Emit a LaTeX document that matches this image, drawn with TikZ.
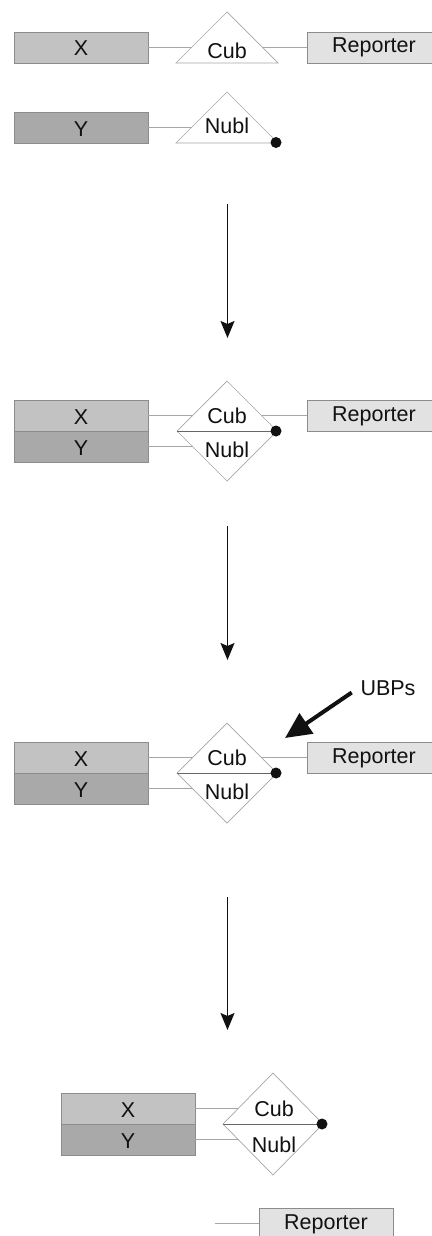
\documentclass[tikz,border=0pt]{standalone}
\usepackage{fontspec}
\setmainfont{Liberation Sans}
\usetikzlibrary{arrows.meta}
\definecolor{xfill}{HTML}{C2C2C2}
\definecolor{yfill}{HTML}{A9A9A9}
\definecolor{rfill}{HTML}{E2E2E2}
\definecolor{bordcol}{HTML}{8C8C8C}
\definecolor{conncol}{HTML}{A6A6A6}
\definecolor{inkcol}{HTML}{111111}
\begin{document}
\begin{tikzpicture}[x=1pt,y=-1pt,
 font=\fontsize{21.5}{25}\selectfont,
 box/.style={draw=bordcol, line width=0.9pt, minimum width=134pt, minimum height=31pt,
   inner sep=0pt, text height=24pt, text depth=7pt, text=inkcol},
 xbox/.style={box, fill=xfill},
 ybox/.style={box, fill=yfill},
 rbox/.style={box, fill=rfill, text height=21pt, text depth=10pt},
 conn/.style={draw=conncol, line width=0.9pt},
 outline/.style={draw=conncol, line width=0.7pt, fill=white},
 midline/.style={draw=black!60, line width=0.9pt},
 lbl/.style={anchor=base, inner sep=0pt, text=inkcol},
 dotmark/.style={fill=inkcol},
 flow/.style={line width=1.4pt, draw=inkcol, -{Stealth[length=17pt,width=14pt,inset=3pt]}},
 pointer/.style={line width=4pt, draw=inkcol, -{Triangle[length=26pt,width=24pt]}}
]
\useasboundingbox (0,0) rectangle (431,1236);

% ---------- panel 1 ----------
\node[xbox] (x1) at (81,47.5) {X};
\node[ybox] (y1) at (81,127.5) {Y};
\node[rbox] (r1) at (374,47.5) {Reporter};
\draw[outline] (176,63) -- (227,12) -- (278,63) -- cycle;
\draw[outline] (176,143) -- (227,92) -- (278,143) -- cycle;
\coordinate (c1l) at (191.5,47.5);
\coordinate (c1r) at (262.5,47.5);
\coordinate (n1l) at (191.5,127.5);
\node[lbl] (cub1) at (227,59) {Cub};
\node[lbl] (nubl1) at (227,133) {Nubl};
\draw[conn] (x1.east) -- (c1l);
\draw[conn] (c1r) -- (r1.west);
\draw[conn] (y1.east) -- (n1l);
\fill[dotmark] (276,142.5) circle (5.5);

% arrow 1
\coordinate (a1s) at (227.5,204);
\coordinate (a1e) at (227.5,338);
\draw[flow] (a1s) -- (a1e);

% ---------- panel 2 ----------
\node[xbox] (x2) at (81,415.5) {X};
\node[ybox] (y2) at (81,446.5) {Y};
\node[rbox] (r2) at (374,415.5) {Reporter};
\draw[outline] (177,431) -- (227,381) -- (277,431) -- (227,481) -- cycle;
\coordinate (d2l) at (177,431);
\coordinate (d2r) at (276,431);
\coordinate (c2l) at (192.5,415.5);
\coordinate (c2r) at (261.5,415.5);
\coordinate (n2l) at (192.5,446.5);
\draw[midline] (d2l) -- (d2r);
\node[lbl] (cub2) at (227,423) {Cub};
\node[lbl] (nubl2) at (227,457) {Nubl};
\draw[conn] (x2.east) -- (c2l);
\draw[conn] (y2.east) -- (n2l);
\draw[conn] (c2r) -- (r2.west);
\fill[dotmark] (d2r) circle (5.5);

% arrow 2
\coordinate (a2s) at (227.5,526);
\coordinate (a2e) at (227.5,660);
\draw[flow] (a2s) -- (a2e);

% ---------- panel 3 ----------
\node[xbox] (x3) at (81,757.5) {X};
\node[ybox] (y3) at (81,788.5) {Y};
\node[rbox] (r3) at (374,757.5) {Reporter};
\draw[outline] (177,773) -- (227,723) -- (277,773) -- (227,823) -- cycle;
\coordinate (d3l) at (177,773);
\coordinate (d3r) at (276,773);
\coordinate (c3l) at (192.5,757.5);
\coordinate (c3r) at (261.5,757.5);
\coordinate (n3l) at (192.5,788.5);
\draw[midline] (d3l) -- (d3r);
\node[lbl] (cub3) at (227,765) {Cub};
\node[lbl] (nubl3) at (227,799) {Nubl};
\draw[conn] (x3.east) -- (c3l);
\draw[conn] (y3.east) -- (n3l);
\draw[conn] (c3r) -- (r3.west);
\fill[dotmark] (d3r) circle (5.5);
\node[text=inkcol, inner sep=2pt] (ubps) at (388,688) {UBPs};
\coordinate (ubtip) at (285,738);
\draw[pointer, shorten <=8pt] (ubps.west) -- (ubtip);

% arrow 3
\coordinate (a3s) at (227.5,897);
\coordinate (a3e) at (227.5,1030);
\draw[flow] (a3s) -- (a3e);

% ---------- panel 4 ----------
\node[xbox] (x4) at (128,1108.5) {X};
\node[ybox] (y4) at (128,1139.5) {Y};
\draw[outline] (223,1124) -- (273,1073) -- (323,1124) -- (273,1175) -- cycle;
\coordinate (d4l) at (223,1124);
\coordinate (d4r) at (322,1124);
\coordinate (c4l) at (238,1108.5);
\coordinate (n4l) at (238.5,1139.5);
\draw[midline] (d4l) -- (d4r);
\node[lbl] (cub4) at (274,1116.5) {Cub};
\node[lbl] (nubl4) at (274,1152) {Nubl};
\draw[conn] (x4.east) -- (c4l);
\draw[conn] (y4.east) -- (n4l);
\fill[dotmark] (d4r) circle (5.5);
\node[rbox] (r4) at (326,1223.5) {Reporter};
\coordinate (r4free) at (215,1223.5);
\draw[conn] (r4free) -- (r4.west);
\end{tikzpicture}
\end{document}
